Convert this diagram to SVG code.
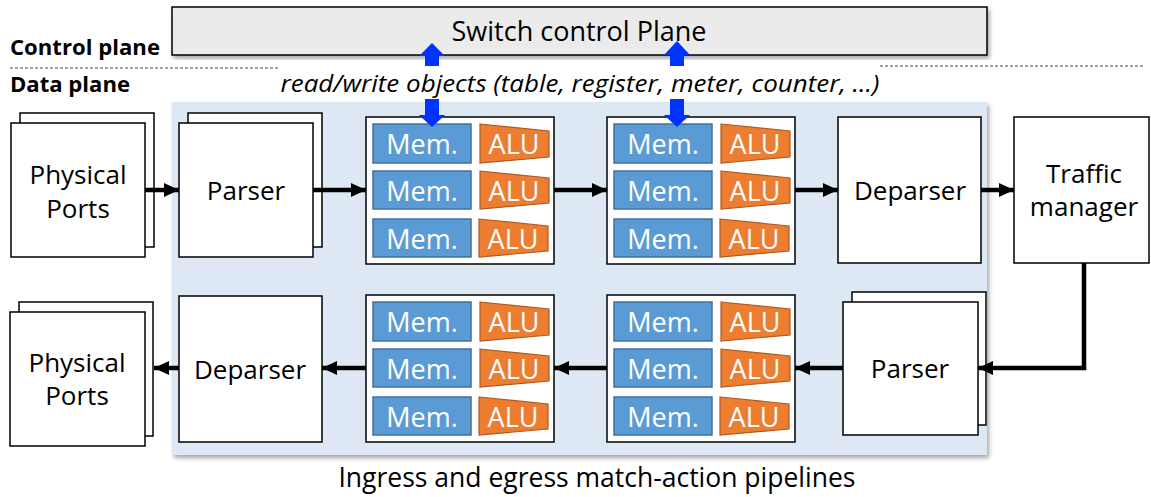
<svg xmlns="http://www.w3.org/2000/svg" width="1151" height="497" viewBox="0 0 1151 497">
<defs>
<filter id="sh" x="-5%" y="-5%" width="110%" height="115%"><feDropShadow dx="2" dy="3" stdDeviation="2" flood-color="#000" flood-opacity="0.35"/></filter>
<marker id="ah" markerUnits="userSpaceOnUse" markerWidth="16" markerHeight="16" viewBox="0 0 16 16" refX="15" refY="8" orient="auto"><path d="M0,1 L15,8 L0,15 Z" fill="#000"/></marker>
<style>
.t{font-family:"Open Sans","Liberation Sans",sans-serif;fill:#000;text-anchor:middle}
.b{fill:#fff;stroke:#000;stroke-width:1.5}
.mem{fill:#5B9BD5;stroke:#41719C;stroke-width:1.5}
.alu{fill:#ED7D31;stroke:#AE5A21;stroke-width:1.2}
.w{font-family:"Open Sans","Liberation Sans",sans-serif;fill:#fff;font-size:27px;text-anchor:middle}
.c{fill:none;stroke:#000;stroke-width:4.5}
.blue{fill:#0033FF}
.lab{font-family:"Open Sans","Liberation Sans",sans-serif;font-weight:bold;font-size:21px;fill:#000}
</style>
<g id="stage">
<rect x="0" y="0" width="188" height="147" class="b"/>
<rect x="7" y="7" width="98" height="39" class="mem"/><text x="56" y="37" class="w">Mem.</text>
<polygon points="114,7 183,14 183,40 114,46" class="alu"/><text x="148" y="37" class="w">ALU</text>
<rect x="7" y="54" width="98" height="38" class="mem"/><text x="56" y="84" class="w">Mem.</text>
<polygon points="114,54 183,61 183,86 114,92" class="alu"/><text x="148" y="84" class="w">ALU</text>
<rect x="7" y="102" width="98" height="38" class="mem"/><text x="56" y="132" class="w">Mem.</text>
<polygon points="113,102 182,109 182,134 113,140" class="alu"/><text x="147" y="132" class="w">ALU</text>
</g>
</defs>

<rect x="172" y="102" width="815" height="353" fill="#DEE8F4" filter="url(#sh)"/>

<g id="control-plane">
<rect x="172" y="7" width="815" height="48" fill="#EBEBEB" stroke="#000" stroke-width="1.5" filter="url(#sh)"/>
<text x="579" y="41" class="t" font-size="27">Switch control Plane</text>
</g>

<g id="labels">
<text x="10" y="55" class="lab" textLength="150" lengthAdjust="spacingAndGlyphs">Control plane</text>
<text x="10" y="92" class="lab" textLength="120" lengthAdjust="spacingAndGlyphs">Data plane</text>
<line x1="10" y1="68" x2="280" y2="68" stroke="#444" stroke-width="1" stroke-dasharray="3,2"/>
<line x1="880" y1="66" x2="1143" y2="66" stroke="#444" stroke-width="1" stroke-dasharray="3,2"/>
<text x="580" y="92" class="t" font-size="23" font-style="italic" textLength="599" lengthAdjust="spacingAndGlyphs">read/write objects (table, register, meter, counter, ...)</text>
<text x="597" y="487" class="t" font-size="26.5">Ingress and egress match-action pipelines</text>
</g>

<g id="ports-in">
<rect x="20" y="113" width="134" height="134" class="b"/>
<rect x="11" y="123" width="134" height="134" class="b"/>
<text x="78" y="184" class="t" font-size="26">Physical</text>
<text x="78" y="218" class="t" font-size="26">Ports</text>
</g>
<g id="parser-in">
<rect x="188" y="113" width="134" height="134" class="b"/>
<rect x="179" y="123" width="134" height="134" class="b"/>
<text x="246" y="200" class="t" font-size="26">Parser</text>
</g>
<g id="ingress-stage-1"><use href="#stage" x="366" y="117"/></g>
<g id="ingress-stage-2"><use href="#stage" x="607" y="117"/></g>
<g id="deparser-in">
<rect x="838" y="117" width="143" height="146" class="b"/>
<text x="910" y="200" class="t" font-size="26">Deparser</text>
</g>
<g id="traffic-manager">
<rect x="1014" y="117" width="135" height="146" class="b"/>
<text x="1084" y="183" class="t" font-size="26">Traffic</text>
<text x="1084" y="216" class="t" font-size="26">manager</text>
</g>
<g id="parser-eg">
<rect x="852" y="292" width="134" height="133" class="b"/>
<rect x="843" y="302" width="135" height="133" class="b"/>
<text x="910" y="378" class="t" font-size="26">Parser</text>
</g>
<g id="egress-stage-1"><use href="#stage" x="607" y="295"/></g>
<g id="egress-stage-2"><use href="#stage" x="366" y="295"/></g>
<g id="deparser-eg">
<rect x="179" y="296" width="143" height="146" class="b"/>
<text x="250" y="379" class="t" font-size="26">Deparser</text>
</g>
<g id="ports-out">
<rect x="19" y="302" width="134" height="134" class="b"/>
<rect x="10" y="312" width="135" height="134" class="b"/>
<text x="77" y="372" class="t" font-size="26">Physical</text>
<text x="77" y="405" class="t" font-size="26">Ports</text>
</g>

<g id="connectors">
<line x1="145" y1="190" x2="179" y2="190" class="c" marker-end="url(#ah)"/>
<line x1="313" y1="190" x2="366" y2="190" class="c" marker-end="url(#ah)"/>
<line x1="554" y1="190" x2="607" y2="190" class="c" marker-end="url(#ah)"/>
<line x1="795" y1="190" x2="838" y2="190" class="c" marker-end="url(#ah)"/>
<line x1="981" y1="190" x2="1014" y2="190" class="c" marker-end="url(#ah)"/>
<polyline points="1084,263 1084,368 978,368" class="c" stroke-linejoin="miter" marker-end="url(#ah)"/>
<line x1="843" y1="368" x2="795" y2="368" class="c" marker-end="url(#ah)"/>
<line x1="607" y1="368" x2="554" y2="368" class="c" marker-end="url(#ah)"/>
<line x1="366" y1="368" x2="322" y2="368" class="c" marker-end="url(#ah)"/>
<line x1="179" y1="368" x2="154" y2="368" class="c" marker-end="url(#ah)"/>
<polygon points="432,43 445,56 439,56 439,66 425,66 425,56 419,56" class="blue"/>
<polygon points="432,127 445,115 439,115 439,99 425,99 425,115 419,115" class="blue"/>
<polygon points="677,41 690,55 684,55 684,66 670,66 670,55 664,55" class="blue"/>
<polygon points="677,127 690,115 684,115 684,99 670,99 670,115 664,115" class="blue"/>
</g>
</svg>
